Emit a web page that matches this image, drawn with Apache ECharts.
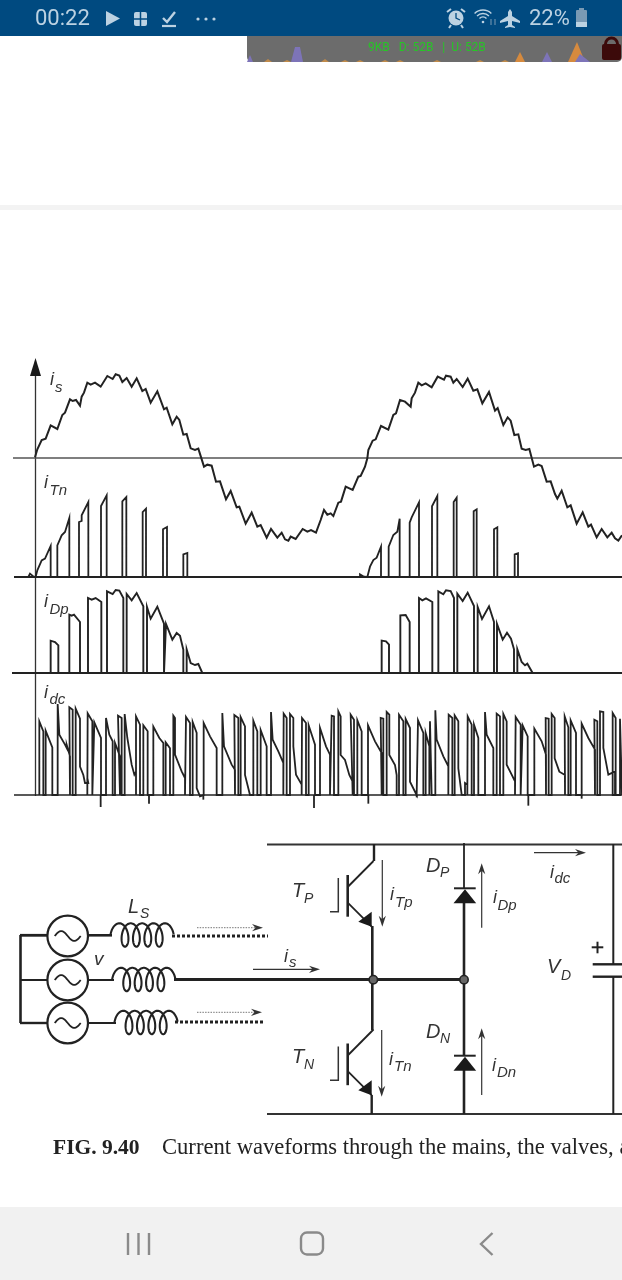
<!DOCTYPE html>
<html><head><meta charset="utf-8">
<style>html,body{margin:0;padding:0;background:#fff}#c{width:622px;height:1280px}</style>
<script src="https://cdn.jsdelivr.net/npm/echarts@6/dist/echarts.min.js"></script>
</head><body><div id="c"></div>
<script>
// Waveforms. Each point is [time, current]; both are in thirds of a picture pixel.
const iS=[[105,2],[112,26],[125,54],[137,58],[152,98],[172,87],[187,129],[195,136],[210,176],[218,171],[228,174],[240,157],[245,184],[252,196],[262,226],[272,220],[285,226],[302,214],[322,246],[338,237],[347,251],[358,247],[367,228],[380,240],[395,214],[410,239],[427,201],[437,207],[452,166],[472,200],[492,146],[500,151],[517,101],[530,124],[538,114],[550,70],[560,72],[572,29],[585,24],[595,28],[612,-26],[622,-20],[635,-23],[648,-71],[660,-70],[678,-124],[692,-99],[710,-148],[718,-146],[737,-197],[755,-164],[772,-206],[782,-201],[800,-239],[813,-213],[832,-239],[845,-224],[855,-244],[865,-248],[872,-236],[887,-243],[908,-213],[922,-221],[933,-216],[948,-224],[962,-186],[972,-156],[982,-170],[992,-166],[1000,-174],[1015,-134],[1023,-131],[1037,-86],[1058,-96],[1075,-56],[1082,-54],[1095,-26],[1102,-1],[1105,24],[1118,52],[1127,56],[1143,96],[1165,85],[1180,129],[1188,134],[1200,174],[1215,169],[1220,172],[1232,154],[1235,179],[1245,196],[1255,226],[1265,218],[1277,224],[1295,212],[1313,244],[1332,235],[1338,247],[1352,244],[1360,226],[1370,237],[1388,213],[1403,238],[1420,202],[1432,206],[1447,164],[1467,198],[1485,142],[1493,150],[1510,99],[1523,122],[1532,112],[1543,69],[1555,71],[1565,28],[1577,24],[1588,27],[1602,-26],[1615,-20],[1625,-24],[1640,-71],[1652,-70],[1665,-108],[1672,-122],[1685,-98],[1702,-148],[1712,-142],[1730,-197],[1748,-163],[1765,-206],[1773,-200],[1790,-238],[1805,-213],[1822,-238],[1835,-224],[1845,-241],[1855,-248],[1866,-232]];
const iTn=[[42,0],[85,0],[90,10],[100,2],[107,0],[112,20],[125,50],[135,55],[152,93],[152,0],[172,0],[172,95],[185,125],[195,135],[208,177],[208,0],[237,0],[237,165],[245,168],[245,185],[265,225],[265,0],[303,0],[303,213],[320,245],[320,0],[367,0],[367,227],[379,240],[379,0],[428,0],[428,195],[438,205],[438,0],[489,0],[489,143],[501,150],[501,0],[550,0],[550,68],[562,72],[562,0],[1080,0],[1080,8],[1092,1],[1102,0],[1110,31],[1120,51],[1130,58],[1143,91],[1143,0],[1166,0],[1166,91],[1180,126],[1192,136],[1199,175],[1199,0],[1229,0],[1229,163],[1235,166],[1235,179],[1257,224],[1257,0],[1296,0],[1296,212],[1312,243],[1312,0],[1361,0],[1361,225],[1370,238],[1370,0],[1421,0],[1421,197],[1430,203],[1430,0],[1482,0],[1482,143],[1492,149],[1492,0],[1544,0],[1544,68],[1554,71],[1554,0],[1866,0]];
const iDp=[[36,0],[152,0],[152,97],[165,93],[175,83],[175,0],[208,0],[208,175],[215,172],[222,175],[240,153],[240,0],[264,0],[264,225],[275,220],[287,225],[304,213],[304,0],[321,0],[321,245],[338,237],[347,249],[358,247],[370,225],[370,0],[380,0],[380,237],[395,218],[410,240],[430,200],[430,0],[441,0],[441,198],[452,163],[472,199],[492,148],[492,0],[498,0],[498,147],[517,100],[530,120],[540,112],[550,70],[550,0],[560,0],[560,71],[572,30],[585,24],[595,27],[607,0],[1145,0],[1145,97],[1158,95],[1167,85],[1167,0],[1201,0],[1201,173],[1207,171],[1217,174],[1229,153],[1229,0],[1257,0],[1257,225],[1267,218],[1278,224],[1297,213],[1297,0],[1315,0],[1315,245],[1330,236],[1338,248],[1352,246],[1362,225],[1362,0],[1372,0],[1372,238],[1388,216],[1403,241],[1422,201],[1422,0],[1433,0],[1433,198],[1446,162],[1467,200],[1482,153],[1482,0],[1491,0],[1491,147],[1508,100],[1521,121],[1533,103],[1542,71],[1542,0],[1552,0],[1552,71],[1565,33],[1575,23],[1582,28],[1598,0],[1866,0]];
// Each pulse of the DC-link current rises from zero, follows these points and falls back to zero.
const idcPulses=[
[[118,221],[130,191]],[[137,193],[157,143]],[[173,273],[178,181],[195,151],[200,141],[200,151],[210,116]],[[208,263],[218,256]],[[227,259],[240,229],[240,85],[250,60],[255,36],[265,36],[262,51]],[[263,245],[277,221]],[[283,218],[303,171]],[[318,231],[328,181],[338,161]],[[345,156],[360,116]],[[354,238],[365,231]],[[374,243],[382,171],[395,91],[403,61],[408,70]],[[408,236],[420,211]],[[430,209],[443,191]],[[460,205],[478,171],[490,156]],[[497,158],[510,140]],[[520,238],[525,231],[525,121],[545,71],[555,51]],[[558,234],[570,216]],[[578,219],[590,186],[590,21],[600,-4]],[[611,216],[630,176],[650,141]],[[667,246],[672,146],[695,91],[705,76]],[[703,240],[715,231]],[[722,234],[735,206],[735,60],[750,0]],[[760,223],[772,191]],[[782,195],[800,146]],[[813,249],[818,166],[835,131],[850,96]],[[851,244],[860,231]],[[870,243],[880,231],[880,146],[888,61],[905,31]],[[906,231],[918,216]],[[926,209],[945,151]],
[[960,201],[978,146],[990,121]],[[995,238],[1002,236],[1002,125]],[[1015,251],[1022,236],[1022,120],[1035,105],[1048,60],[1058,40]],[[1052,241],[1062,226]],[[1072,224],[1085,191]],[[1104,209],[1125,161],[1145,126]],[[1142,231],[1150,229]],[[1160,249],[1168,241],[1168,120],[1185,90],[1190,60]],[[1197,241],[1210,221]],[[1217,228],[1230,201],[1230,40],[1250,0]],[[1254,224],[1270,186]],[[1277,186],[1288,146]],[[1290,221],[1295,216]],[[1306,254],[1310,166],[1330,116],[1345,86]],[[1346,241],[1357,231]],[[1364,239],[1375,221],[1375,80],[1385,1]],[[1395,36],[1402,31]],[[1403,236],[1415,211]],[[1422,211],[1435,171]],[[1455,249],[1460,181],[1480,141]],[[1490,244],[1500,236]],[[1510,243],[1520,221],[1520,91],[1535,61],[1545,41]],[[1547,234],[1562,211]],[[1568,209],[1583,176]],[[1603,199],[1625,161],[1638,121]],[[1637,231],[1646,229]],[[1655,243],[1664,231],[1664,110],[1678,70],[1695,60]],[[1694,236],[1705,203]],[[1712,224],[1728,186]],[[1745,214],[1765,171],[1785,136]],[[1783,226],[1792,221]],[[1800,251],[1810,249],[1810,141],[1825,61],[1845,71]],[[1838,246],[1847,231]],[[1860,229],[1866,225]]];
// Short dips below zero in the DC-link current: [time, depth]
const idcDips=[[302,-36],[447,-26],[610,-14],[942,-39],[1105,-26],[1250,-7],[1585,-32],[1745,-11]];
const baseStart=[39,42,36,42];

const idc=[];
idcPulses.forEach(p=>{idc.push([p[0][0],0]);p.forEach(q=>idc.push(q));idc.push([p[p.length-1][0],0]);});

const panels=[{top:360,bottom:555,max:294,min:-291},{top:480,bottom:590,max:291,min:-39},{top:585,bottom:690,max:264,min:-51},{top:680,bottom:815,max:345,min:-60}];
const widths=[2,1.8,1.9,1.8];
const baseW=[1.3,2.2,1.8,1.5];
const wave=[iS,iTn,iDp,idc];
const INK='#222';

const series=[];
wave.forEach((d,i)=>{
  series.push({type:'line',xAxisIndex:i,yAxisIndex:i,data:[[baseStart[i],0],[1866,0]],symbol:'none',clip:false,silent:true,lineStyle:{color:i==0?'#555':INK,width:baseW[i]}});
  series.push({type:'line',xAxisIndex:i,yAxisIndex:i,data:d,symbol:'none',clip:false,silent:true,lineStyle:{color:INK,width:widths[i],join:'miter'}});
});
idcDips.forEach(p=>series.push({type:'line',xAxisIndex:3,yAxisIndex:3,data:[[p[0],0],p],symbol:'none',clip:false,silent:true,lineStyle:{color:INK,width:1.8}}));

// ---- scene helpers (phone chrome and circuit schematic) ----
const g=[];
const SANS='"Liberation Sans",Arial,sans-serif', SERIF='"Liberation Serif",serif';
function rect(x,y,w,h,fill,r){g.push({type:'rect',shape:{x,y,width:w,height:h,r:r||0},style:{fill},silent:true});}
function line(pts,w,col,dash){g.push({type:'polyline',shape:{points:pts},style:{stroke:col||INK,lineWidth:w,fill:null,lineDash:dash||null,lineJoin:'miter'},silent:true});}
function poly(pts,fill){g.push({type:'polygon',shape:{points:pts},style:{fill},silent:true});}
function circle(cx,cy,r,fill,stroke,w){g.push({type:'circle',shape:{cx,cy,r},style:{fill:fill||null,stroke:stroke||null,lineWidth:w||1},silent:true});}
function text(x,y,s,font,fill,align){const size=parseFloat(font.match(/([\d.]+)px/)[1]);g.push({type:'text',x,y:y-0.33*size,style:{text:s,font,fill:fill||INK,textAlign:align||'left',textVerticalAlign:'middle'},silent:true});}
function lab(x,y,main,size,sx,sy,sub,ssize){text(x,y+1,main,`italic ${size}px ${SANS}`,'#333');if(sub)text(sx,sy+1,sub,`italic ${ssize}px ${SANS}`,'#333');}
function coil(x0,yc){const s=11.4,r=6,R=11.7,p=[];for(let t=-1.5*Math.PI;t<=7.5*Math.PI+1e-6;t+=0.1)p.push([x0+s*t/(2*Math.PI)-r*Math.sin(t),yc+R*Math.cos(t)]);line(p,2.1);}
function source(cx,cy){circle(cx,cy,20.3,'#fff',INK,2.2);const p=[];for(let i=-13;i<=13;i++)p.push([cx+i,cy+5*Math.sin(i/13*Math.PI)]);line(p,1.8);}
function arrow(x1,y1,x2,y2,col,w,dash){const a=Math.atan2(y2-y1,x2-x1),L=11,W=3.6;const bx=x2-L*Math.cos(a),by=y2-L*Math.sin(a);const nx=-Math.sin(a),ny=Math.cos(a);
  line([[x1,y1],[x2-5*Math.cos(a),y2-5*Math.sin(a)]],w||1.2,col||'#333',dash);
  poly([[x2,y2],[bx+W*nx,by+W*ny],[x2-7.5*Math.cos(a),y2-7.5*Math.sin(a)],[bx-W*nx,by-W*ny]],'#333');}

// page chrome
rect(0,205,622,5,'#f3f3f3');
rect(0,1207,622,73,'#f1f1f1');
[128,138.5,149].forEach(x=>line([[x,1233],[x,1255]],2.4,'#8a8a8a'));
g.push({type:'rect',shape:{x:301,y:1232.5,width:22,height:22,r:6},style:{fill:null,stroke:'#8a8a8a',lineWidth:2.4},silent:true});
line([[492.5,1233],[481,1244],[492.5,1255]],2.4,'#8a8a8a');

// status bar
rect(0,0,622,36,'#004a80');
const SB='#bcd2e2';
text(35,27,'00:22','400 22px Roboto',SB);
poly([[106,11],[106,26],[120,18.5]],SB);
rect(134,12,13,14,SB,2);line([[134,19],[147,19]],1.5,'#004a80');line([[140.5,12],[140.5,26]],1.5,'#004a80');
line([[163,18],[167,22],[175,12]],2.4,SB);line([[162,26],[176,26]],2.2,SB);
[198,206,214].forEach(x=>circle(x,19,1.6,SB));
circle(456,18,7.5,SB);line([[456,13],[456,18],[460,20]],1.3,'#004a80');line([[447,12],[451,9]],2,SB);line([[465,12],[461,9]],2,SB);line([[451,25],[449,28]],2,SB);line([[461,25],[463,28]],2,SB);
[12,8.5,5].forEach(r=>g.push({type:'arc',shape:{cx:483,cy:22,r,startAngle:-2.35,endAngle:-0.8},style:{stroke:SB,lineWidth:1.4,fill:null},silent:true}));
circle(483,22,1.3,SB);
line([[491,19],[491,25]],1,'#7a9ab4');line([[495,19],[495,25]],1,'#7a9ab4');
poly([[510,9],[512,12],[512,16],[520,21],[520,23],[512,21],[512,25],[515,27],[515,28],[510,27],[505,28],[505,27],[508,25],[508,21],[500,23],[500,21],[508,16],[508,12]],SB);
text(529,27,'22%','400 22px Roboto',SB);
rect(576,10,11,17,'#7a9ab4',1);rect(576,22,11,5,SB);rect(579,8,5,2,'#7a9ab4');

// network-meter widget
g.push({type:'rect',shape:{x:247,y:36,width:375,height:26,r:[0,0,5,5]},style:{fill:'#6c6c6c'},silent:true});
poly([[291,62],[295,47],[300,47],[303,62]],'#7d74b8');
poly([[247,62],[250,55],[253,62]],'#7d74b8');
poly([[542,62],[547,52],[552,62]],'#7d74b8');
poly([[568,62],[577,42],[585,62]],'#d68a3e');
poly([[575,62],[580,54],[590,62]],'#7d74b8');
poly([[515,62],[520,52],[525,62]],'#d68a3e');
[[268,59],[287,60],[325,59],[345,60],[360,60],[385,60],[400,60],[437,60],[480,60],[505,60]].forEach(p=>poly([[p[0]-4,62],[p[0],p[1]],[p[0]+4,62]],'#c08a4a'));
text(368,52,'9KB   D: 52B   |  U: 52B','12px Roboto','#27c527');
rect(602,44,19,16,'#3c0a0a',2);
g.push({type:'arc',shape:{cx:611.5,cy:44,r:6,startAngle:Math.PI,endAngle:0},style:{stroke:'#3c0a0a',lineWidth:3,fill:null},silent:true});

// waveform vertical axis and labels
line([[35.5,374],[35.5,796]],1.3,'#333');
poly([[35.5,358],[30,376],[41,376]],'#1a1a1a');
lab(50,385,'i',18,55,391.5,'s',15);
lab(44,488,'i',18,49.5,495,'Tn',15);
lab(44,607,'i',18,49.5,613.5,'Dp',15);
lab(44,698,'i',18,49.5,703.5,'dc',15);

// schematic: rails
line([[267,844.5],[622,844.5]],1.8,'#333');
line([[267,1114],[622,1114]],1.8,'#333');
// mains side
line([[20.5,935],[20.5,1023]],2.6);
line([[20,935.3],[50,935.3]],2.8);
line([[20,980],[50,980]],2);
line([[20,1023],[50,1023]],2.4);
source(67.7,936);source(67.7,980);source(67.7,1023);
line([[88,935.3],[112,935.3]],2.6);
line([[88,980],[114,980]],2);
line([[88,1023],[116,1023]],2);
coil(125,935);coil(126.7,979.5);coil(129,1022.5);
line([[172,936],[268,936]],3,INK,[3,2]);
line([[175,1022],[263,1022]],3,INK,[3,2]);
line([[174,979.5],[464,979.5]],2.8);
arrow(197,927.7,263,927.7,'#777',1,[1.5,1.2]);
arrow(197,1012.3,262,1012.3,'#777',1,[1.5,1.2]);
arrow(253,969.3,320,969.3);
lab(128,913,'L',20,140,918,'S',14);
lab(94,965,'v',19);
lab(284,961.7,'i',18,289,966.7,'s',15);
// IGBTs
function igbt(dy){
  line([[347.7,875+dy],[347.7,916.7+dy]],2.6);
  line([[330,911.7+dy],[338.3,911.7+dy],[338.3,878+dy]],1.5,'#333');
  line([[347.7,887+dy],[373.5,861+dy]],1.8);
  line([[347.7,902.7+dy],[371.7,926.7+dy]],1.8);
  poly([[371.7,926.7+dy],[371.7,911.7+dy],[358.3,921.7+dy]],'#1a1a1a');
}
igbt(0);igbt(168.5);
line([[374,844],[374,861]],2.4);
line([[372.3,926],[372.3,1030]],2.6);
line([[371.7,1095],[371.7,1114]],2.4);
circle(373.3,979.7,4.2,'#666',INK,1.6);
arrow(382.3,860,382.3,926.7);
arrow(381.7,1030,381.7,1096.7);
lab(292,897,'T',20,304,902.7,'P',14);
lab(292,1063,'T',20,304,1069,'N',14);
lab(390,900,'i',18,395,906.7,'Tp',15);
lab(389,1065,'i',18,394,1070.7,'Tn',15);
// diodes
line([[464,843],[464,888]],1.8);
line([[464,903],[464,1056]],2.6);
line([[464,1070],[464,1114]],2.6);
function diode(y){line([[454,y],[475.7,y]],2);poly([[453.5,y+15],[476.2,y+15],[465,y+1]],'#1a1a1a');}
diode(888.3);diode(1055.7);
circle(464,979.7,4.2,'#666',INK,1.6);
arrow(481.7,927.7,481.7,863.3);
arrow(481.7,1095,481.7,1028.3);
lab(426,872,'D',20,440,876.7,'P',14);
lab(426,1038.3,'D',20,440,1043,'N',14);
lab(493,903.3,'i',18,497.5,910,'Dp',15);
lab(492,1070.7,'i',18,497,1077,'Dn',15);
// DC link
arrow(534,852.7,586,852.7);
lab(550,878,'i',18,554.5,883,'dc',15);
line([[613.3,844],[613.3,964.3]],2);
line([[613.3,976.7],[613.3,1114]],2);
line([[592.7,964.3],[622,964.3]],2.4);
line([[592.7,976.7],[622,976.7]],2.4);
line([[591.7,947.3],[603.3,947.3]],2);line([[597.5,941.7],[597.5,953.3]],2);
lab(547,973.3,'V',20,561,980,'D',14);
// caption
text(53,1156,'FIG. 9.40',`bold 21.5px ${SERIF}`,'#222');
text(162,1156,'Current waveforms through the mains, the valves, and the',`22.6px ${SERIF}`,'#222');

const chart=echarts.init(document.getElementById('c'),null,{renderer:'canvas',width:622,height:1280});
chart.setOption({
  animation:false,
  backgroundColor:'#fff',
  grid:panels.map(p=>({left:0,width:622,top:p.top,height:p.bottom-p.top,containLabel:false})),
  xAxis:panels.map((p,i)=>({type:'value',gridIndex:i,min:0,max:1866,show:false})),
  yAxis:panels.map((p,i)=>({type:'value',gridIndex:i,min:p.min,max:p.max,show:false})),
  series,
  graphic:{elements:g}
});
</script></body></html>
